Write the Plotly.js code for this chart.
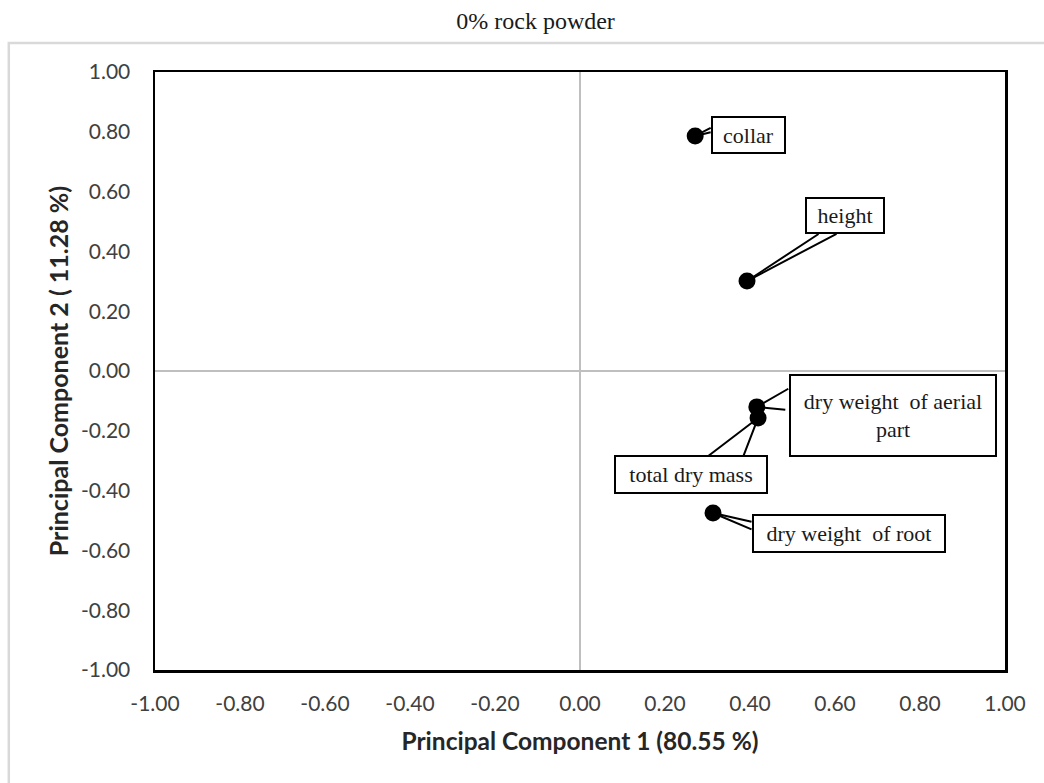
<!DOCTYPE html>
<html>
<head>
<meta charset="utf-8">
<script src="https://cdn.plot.ly/plotly-3.0.1.min.js"></script>
<style>html,body{margin:0;padding:0;background:#fff;}#chart{width:1044px;height:783px;}</style>
</head>
<body>
<div id="chart"></div>
<script>
// Data
const variableLabels = ['collar', 'height', 'dry weight  of aerial<br>part', 'total dry mass', 'dry weight  of root'];
const pc1Loadings = [0.271, 0.393, 0.416, 0.419, 0.313];
const pc2Loadings = [0.786, 0.301, -0.120, -0.157, -0.475];
const tickValues = [-1, -0.8, -0.6, -0.4, -0.2, 0, 0.2, 0.4, 0.6, 0.8, 1];
const tickLabels = ['-1.00', '-0.80', '-0.60', '-0.40', '-0.20', '0.00', '0.20', '0.40', '0.60', '0.80', '1.00'];
const chartTitle = '0% rock powder';
const xTitle = 'Principal Component 1 (80.55 %)';
const yTitle = 'Principal Component 2 ( 11.28 %)';

// Styling of the callouts (pixel offsets from the point)
const boxStyle = [
  {dx: 53, dy: -1, w: 71, h: 34, wedge: [[17, -9], [17, -4]]},
  {dx: 98, dy: -66, w: 76, h: 33, wedge: [[73, -48], [91, -48]]},
  {dx: 136, dy: 9, w: 204, h: 79, wedge: [[33, -19], [30, 3]]},
  {dx: -67, dy: 57, w: 150, h: 35, wedge: [[-51, 39], [-15, 39]]},
  {dx: 136, dy: 20, w: 190, h: 35, wedge: [[40, 9], [40, 17]]}
];

const annotations = [];
variableLabels.forEach((lab, i) => {
  boxStyle[i].wedge.forEach(w => {
    annotations.push({
      x: pc1Loadings[i], y: pc2Loadings[i], xref: 'x', yref: 'y',
      text: '', showarrow: true, arrowhead: 0, arrowwidth: 2, arrowcolor: '#000',
      ax: w[0], ay: w[1], axref: 'pixel', ayref: 'pixel', standoff: 0, startstandoff: 0
    });
  });
});
variableLabels.forEach((lab, i) => {
  const s = boxStyle[i];
  annotations.push({
    x: pc1Loadings[i], y: pc2Loadings[i], xref: 'x', yref: 'y',
    text: lab, showarrow: false, xshift: s.dx, yshift: -s.dy,
    width: s.w, height: s.h, borderpad: 0,
    bgcolor: '#fff', bordercolor: '#000', borderwidth: 2,
    font: {family: 'Liberation Serif, Times New Roman, serif', size: 22, color: '#1a1a1a'},
    align: 'center', valign: 'middle'
  });
});

const trace = {
  x: pc1Loadings, y: pc2Loadings, type: 'scatter', mode: 'markers',
  marker: {color: '#000', size: 17}, hoverinfo: 'skip', cliponaxis: false
};

const axisCommon = {
  range: [-1, 1], tickmode: 'array', tickvals: tickValues, ticktext: tickLabels,
  showgrid: false, zeroline: true, zerolinecolor: '#bfbfbf', zerolinewidth: 2,
  showline: true, linecolor: '#000', linewidth: 2.5, mirror: true, ticks: '',
  tickfont: {family: 'Lato, Carlito, Calibri, sans-serif', size: 21, color: '#404040'},
  fixedrange: true
};

const layout = {
  width: 1044, height: 783,
  margin: {l: 155, r: 39, t: 72, b: 113},
  paper_bgcolor: '#fff', plot_bgcolor: '#fff',
  showlegend: false,
  title: {text: chartTitle, x: 0.513, xanchor: 'center', y: 0.974, yanchor: 'middle', yref: 'container',
    font: {family: 'Liberation Serif, Times New Roman, serif', size: 24, color: '#1a1a1a'}},
  xaxis: Object.assign({}, axisCommon, {
    ticklabelstandoff: 13,
    title: {text: xTitle, standoff: 19, font: {family: 'Lato, Carlito, Calibri, sans-serif', size: 24.5, color: '#262626', weight: 'bold'}}
  }),
  yaxis: Object.assign({}, axisCommon, {
    ticklabelstandoff: 18,
    title: {text: yTitle, standoff: 5, font: {family: 'Lato, Carlito, Calibri, sans-serif', size: 25, color: '#262626', weight: 'bold'}}
  }),
  shapes: [{
    type: 'rect', xref: 'paper', yref: 'paper', x0: -0.172, x1: 1.2, y0: -0.3, y1: 1.0485,
    line: {color: '#d9d9d9', width: 2.5}, fillcolor: 'rgba(0,0,0,0)', layer: 'below'
  }],
  annotations: annotations
};

Plotly.newPlot('chart', [trace], layout, {staticPlot: true, displayModeBar: false});
</script>
</body>
</html>
